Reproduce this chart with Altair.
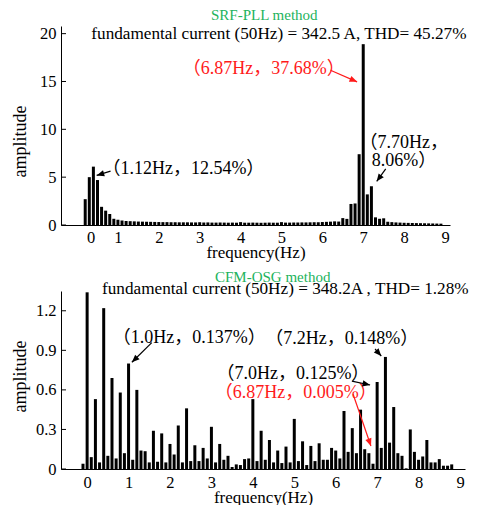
import math
import altair as alt
import pandas as pd

FONT = "Liberation Serif, Noto Sans CJK SC"
GREEN = "#22b35c"
RED = "#ff1a1a"

# ---------------- data: SRF-PLL spectrum ----------------
top_freq = [0.2, 0.3, 0.4, 0.5, 0.6, 0.7, 0.8, 0.9, 1.0, 1.1, 1.2, 1.3, 1.4, 1.5, 1.6,
            1.7, 1.8, 1.9, 2.0, 2.1, 2.2, 2.3, 2.4, 2.5, 2.6, 2.7, 2.8, 2.9, 3.0, 3.1,
            3.2, 3.3, 3.4, 3.5, 3.6, 3.7, 3.8, 3.9, 4.0, 4.1, 4.2, 4.3, 4.4, 4.5, 4.6,
            4.7, 4.8, 4.9, 5.0, 5.1, 5.2, 5.3, 5.4, 5.5, 5.6, 5.7, 5.8, 5.9, 6.0, 6.1,
            6.2, 6.3, 6.4, 6.5, 6.6, 6.7, 6.8, 6.9, 7.0, 7.1, 7.2, 7.3, 7.4, 7.5, 7.6,
            7.7, 7.8, 7.9, 8.0, 8.1, 8.2, 8.3, 8.4, 8.5, 8.6, 8.7, 8.8, 8.9]
top_amp = [2.7, 5.0, 6.1, 4.7, 1.9, 1.5, 1.15, 0.65, 0.55, 0.47, 0.42, 0.40, 0.38, 0.36, 0.35,
           0.34, 0.33, 0.32, 0.31, 0.30, 0.30, 0.29, 0.29, 0.28, 0.28, 0.28, 0.27, 0.27, 0.29, 0.26,
           0.27, 0.25, 0.25, 0.26, 0.25, 0.24, 0.25, 0.24, 0.30, 0.24, 0.24, 0.25, 0.24, 0.23, 0.24,
           0.25, 0.24, 0.24, 0.30, 0.25, 0.25, 0.26, 0.26, 0.27, 0.27, 0.28, 0.29, 0.30, 0.31, 0.33,
           0.35, 0.38, 0.36, 0.72, 0.64, 2.2, 2.25, 7.4, 18.9, 3.2, 4.05, 0.8, 0.65, 0.7, 0.34,
           0.30, 0.27, 0.25, 0.23, 0.22, 0.21, 0.20, 0.19, 0.18, 0.17, 0.16, 0.15, 0.14]

# ---------------- data: CFM-OSG spectrum ----------------
bot_freq = [-0.1, 0.0, 0.1, 0.2, 0.3, 0.4, 0.5, 0.6, 0.7, 0.8, 0.9, 1.0, 1.1, 1.2, 1.3,
            1.4, 1.5, 1.6, 1.7, 1.8, 1.9, 2.0, 2.1, 2.2, 2.3, 2.4, 2.5, 2.6, 2.7, 2.8,
            2.9, 3.0, 3.1, 3.2, 3.3, 3.4, 3.5, 3.6, 3.7, 3.8, 3.9, 4.0, 4.1, 4.2, 4.3,
            4.4, 4.5, 4.6, 4.7, 4.8, 4.9, 5.0, 5.1, 5.2, 5.3, 5.4, 5.5, 5.6, 5.7, 5.8,
            5.9, 6.0, 6.1, 6.2, 6.3, 6.4, 6.5, 6.6, 6.7, 6.8, 6.9, 7.0, 7.1, 7.2, 7.3,
            7.4, 7.5, 7.6, 7.7, 7.8, 7.9, 8.0, 8.1, 8.2, 8.3, 8.4, 8.5, 8.6, 8.7, 8.8]
bot_amp = [0.04, 1.34, 0.09, 0.53, 0.05, 1.22, 0.10, 0.69, 0.08, 0.58, 0.12, 0.80, 0.07, 0.60, 0.14,
           0.135, 0.05, 0.29, 0.055, 0.27, 0.05, 0.19, 0.11, 0.33, 0.05, 0.46, 0.06, 0.18, 0.06, 0.16,
           0.08, 0.32, 0.05, 0.19, 0.07, 0.10, 0.015, 0.035, 0.03, 0.075, 0.08, 0.53, 0.06, 0.29, 0.07,
           0.22, 0.05, 0.14, 0.045, 0.17, 0.05, 0.38, 0.06, 0.21, 0.03, 0.175, 0.06, 0.195, 0.07, 0.07,
           0.16, 0.14, 0.08, 0.44, 0.13, 0.31, 0.12, 0.45, 0.15, 0.12, 0.04, 0.66, 0.16, 0.85, 0.20,
           0.47, 0.12, 0.10, 0.005, 0.30, 0.13, 0.07, 0.095, 0.22, 0.05, 0.05, 0.075, 0.025, 0.025, 0.035]

# ---------------- axes / text ----------------
x_title = "frequency(Hz)"
y_title = "amplitude"
top_title = "SRF-PLL method"
bot_title = "CFM-OSG method"
top_note = "fundamental current (50Hz) = 342.5 A, THD= 45.27%"
bot_note = "fundamental current (50Hz) = 348.2A , THD= 1.28%"
top_xticks = [0.33, 1, 2, 3, 4, 5, 6, 7, 8, 9]   # the "0" label sits squeezed next to 1
bot_xticks = [0, 1, 2, 3, 4, 5, 6, 7, 8, 9]
top_yticks = [0, 5, 10, 15, 20]
bot_yticks = [0, 0.3, 0.6, 0.9, 1.2]

# annotations (data coordinates)
top_labels = pd.DataFrame({
    "x": [0.62, 6.55, 6.91, 7.21],
    "y": [5.87, 16.27, 8.62, 6.66],
    "text": ["（1.12Hz，12.54%）", "（6.87Hz，37.68%）", "（7.70Hz，", "8.06%）"],
    "color": ["black", RED, "black", "black"],
    "align": ["left", "right", "left", "left"],
})
top_arrows = pd.DataFrame({
    "x": [0.82, 6.20, 7.55], "y": [5.63, 16.17, 5.87],
    "x2": [0.48, 6.85, 7.33], "y2": [5.18, 14.96, 4.56],
    "color": ["black", RED, "black"],
})
bot_labels = pd.DataFrame({
    "x": [0.62, 4.30, 3.12, 3.08],
    "y": [0.996, 0.986, 0.72, 0.579],
    "text": ["（1.0Hz，0.137%）", "（7.2Hz，0.148%）", "（7.0Hz，0.125%）", "（6.87Hz，0.005%）"],
    "color": ["black", "black", "black", RED],
    "align": ["left", "left", "left", "left"],
})
bot_arrows = pd.DataFrame({
    "x": [1.56, 6.95, 6.39, 6.42], "y": [0.958, 0.91, 0.667, 0.567],
    "x2": [1.08, 7.10, 6.83, 6.85], "y2": [0.81, 0.857, 0.637, 0.174],
    "color": ["black", "black", "black", RED],
})


def panel(freq, amp, xdom, ydom, w, h, xticks, yticks, xlabel_expr, ylabel_fmt,
          labels, arrows, title, title_x, title_dy, note, note_x, note_y, ytitle_y,
          xtitle_y, xlabel_pad):
    sx = alt.Scale(domain=xdom, nice=False, zero=False)
    sy = alt.Scale(domain=ydom, nice=False, zero=False)
    xaxis = alt.Axis(values=xticks, labelExpr=xlabel_expr, ticks=False, tickSize=0, grid=False,
                     title=x_title, labelFontSize=16.5, titleFontSize=17, labelPadding=xlabel_pad,
                     titleY=xtitle_y, titleBaseline="middle", minExtent=0,
                     domainColor="black", labelColor="black",
                     titleColor="black", titleFontWeight="normal", labelFlush=False)
    yaxis = alt.Axis(values=yticks, format=ylabel_fmt, ticks=False, tickSize=0, grid=False,
                     title=y_title, labelFontSize=16.5, titleFontSize=18, labelPadding=5,
                     minExtent=0, domainColor="black", labelColor="black", titleColor="black",
                     titleFontWeight="normal", titleX=-41, titleY=ytitle_y,
                     titleBaseline="middle", titleAlign="center")

    def X(f):
        return alt.X(f, type="quantitative", scale=sx, axis=xaxis)

    def Y(f):
        return alt.Y(f, type="quantitative", scale=sy, axis=yaxis)

    df = pd.DataFrame({"f": freq, "a": amp})
    bars = alt.Chart(df).mark_bar(color="black", size=3).encode(x=X("f"), y=Y("a"))

    # short inward ticks on the amplitude axis
    tick_df = pd.DataFrame({"t": yticks})
    ticks = alt.Chart(tick_df).mark_rule(color="black", strokeWidth=1).encode(
        x=alt.value(0), x2=alt.value(5), y=Y("t"))

    layers = [bars, ticks]
    for color in ["black", RED]:
        sub = labels[labels["color"] == color]
        for al in sub["align"].unique():
            s2 = sub[sub["align"] == al]
            layers.append(alt.Chart(s2).mark_text(
                color=color, align=al, baseline="middle", fontSize=18, font=FONT
            ).encode(x=X("x"), y=Y("y"), text="text:N"))

    pxx = w / (xdom[1] - xdom[0])
    pxy = h / (ydom[1] - ydom[0])
    arr = arrows.copy()
    arr["angle"] = [
        math.degrees(math.atan2((b - a) * pxx, (d - c) * pxy)) % 360
        for a, b, c, d in zip(arr["x"], arr["x2"], arr["y"], arr["y2"])
    ]
    for color in arr["color"].unique():
        sub = arr[arr["color"] == color]
        layers.append(alt.Chart(sub).mark_rule(color=color, strokeWidth=1.2).encode(
            x=X("x"), y=Y("y"), x2="x2", y2="y2"))
        layers.append(alt.Chart(sub).mark_point(
            shape="M0,0L0.42,1L-0.42,1Z", filled=True, size=230, color=color, opacity=1
        ).encode(x=X("x2"), y=Y("y2"), angle=alt.Angle("angle:Q", scale=None)))

    tdf = pd.DataFrame({"x": [title_x], "text": [title]})
    layers.append(alt.Chart(tdf).mark_text(
        color=GREEN, fontSize=15, font=FONT, baseline="middle", dy=title_dy
    ).encode(x=X("x"), y=alt.value(0), text="text:N"))
    ndf = pd.DataFrame({"x": [note_x], "y": [note_y], "text": [note]})
    layers.append(alt.Chart(ndf).mark_text(
        color="black", fontSize=17.2, font=FONT, baseline="middle", align="left"
    ).encode(x=X("x"), y=Y("y"), text="text:N"))

    return alt.layer(*layers).properties(width=w, height=h)


top = panel(top_freq, top_amp, [-0.27, 9.0], [0, 20.8], 389, 199, top_xticks, top_yticks,
            "datum.value < 0.5 ? '0' : format(datum.value, 'd')", "d",
            top_labels, top_arrows, top_title, 4.58, -11, top_note, 0.35, 19.98, 115,
            27, 4)
bot = panel(bot_freq, bot_amp, [-0.51, 9.0], [0, 1.35], 404, 178, bot_xticks, bot_yticks,
            "format(datum.value, 'd')", ".1~f",
            bot_labels, bot_arrows, bot_title, 4.48, -14, bot_note, 0.36, 1.365, 85,
            28, 5)

chart = alt.vconcat(top, bot, spacing=10).properties(
    padding={"top": 0, "left": 3, "right": 0, "bottom": 0}
).configure(font=FONT).configure_view(stroke=None)

chart.save("out.html", embed_options={"renderer": "svg", "actions": False})
